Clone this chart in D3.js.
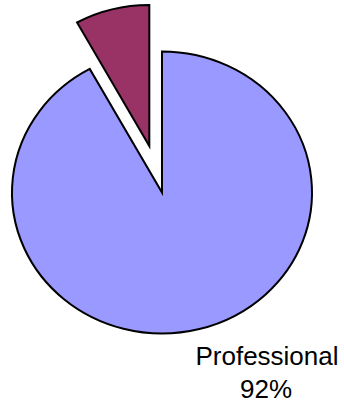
<!DOCTYPE html>
<html>
<head>
<meta charset="utf-8">
<script src="https://cdn.jsdelivr.net/npm/d3@7/dist/d3.min.js"></script>
<style>
  html, body { margin: 0; padding: 0; background: #fff; }
  svg { display: block; }
</style>
</head>
<body>
<svg id="chart" width="344" height="406"></svg>
<script>
// Share of respondents by category
const categories = ["Professional", "Other"];
const values = [92, 8];
const colors = ["#9999FF", "#993366"];
const explode = [0, 51];
const shownLabels = ["Professional", null];

const svg = d3.select("#chart");
const cx = 162, cy = 192.5, r = 150, yScale = 0.94;

const pie = d3.pie().sort(null).value(d => d.value);
const arcs = pie(categories.map((c, i) => ({ name: c, value: values[i], i })));
const arc = d3.arc().innerRadius(0).outerRadius(r);

const g = svg.append("g")
  .attr("transform", `translate(${cx},${cy}) scale(1,${yScale})`);

g.selectAll("path")
  .data(arcs)
  .join("path")
  .attr("d", arc)
  .attr("transform", d => {
    const mid = (d.startAngle + d.endAngle) / 2;
    const off = explode[d.data.i];
    return `translate(${Math.sin(mid) * off},${-Math.cos(mid) * off})`;
  })
  .attr("fill", d => colors[d.data.i])
  .attr("stroke", "#000")
  .attr("stroke-width", 2)
  .attr("stroke-linejoin", "miter")
  .attr("vector-effect", "non-scaling-stroke");

// Category label with percentage
const total = d3.sum(values);
arcs.forEach(d => {
  if (!shownLabels[d.data.i]) return;
  const t = svg.append("text")
    .attr("x", 267)
    .attr("y", 365)
    .attr("text-anchor", "middle")
    .attr("font-family", "Arial, 'Liberation Sans', sans-serif")
    .attr("font-size", 26)
    .attr("fill", "#000");
  t.append("tspan").attr("x", 267).text(shownLabels[d.data.i]);
  t.append("tspan").attr("x", 266).attr("dy", 33)
    .text(Math.round(d.data.value / total * 100) + "%");
});
</script>
</body>
</html>
